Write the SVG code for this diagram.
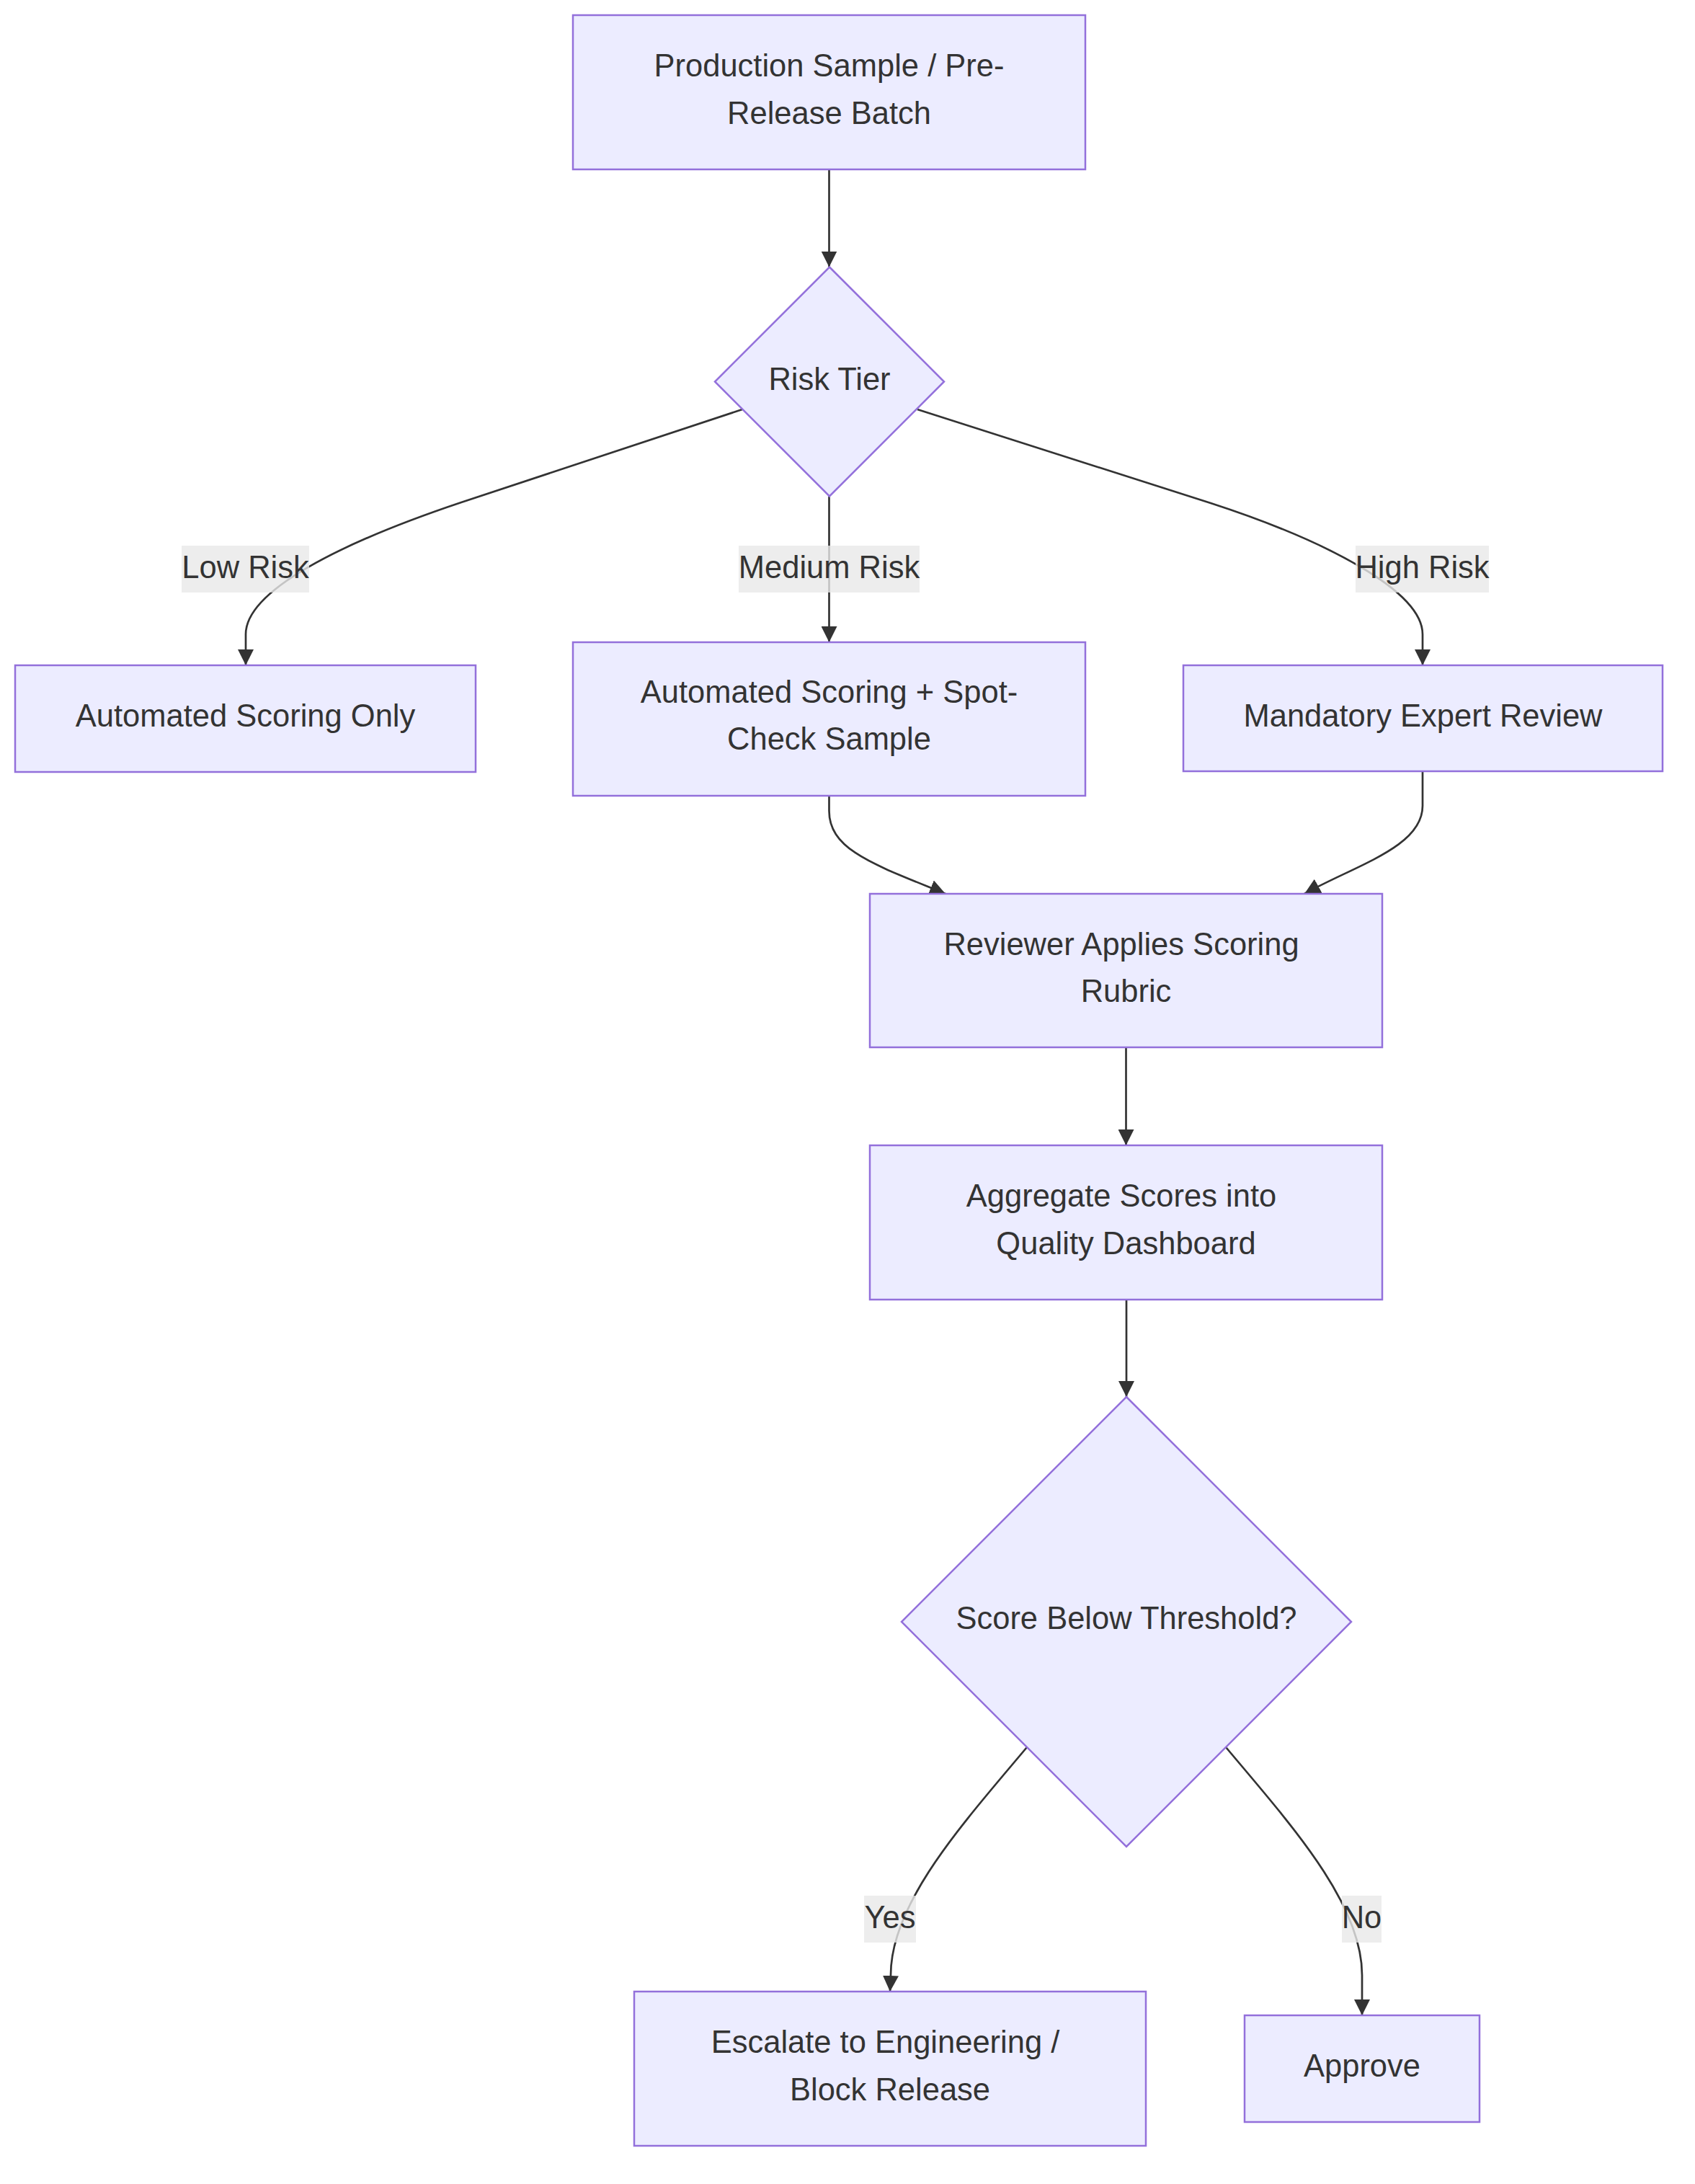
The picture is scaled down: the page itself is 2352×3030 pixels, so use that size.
<svg xmlns="http://www.w3.org/2000/svg" width="2352" height="3030" viewBox="0 0 2352 3030">
<style>
.nd rect,.nd polygon{fill:#ECECFF;stroke:#9370DB;stroke-width:2.5}
.t{font-family:"Liberation Sans",Arial,Helvetica,sans-serif;font-size:43.5px;fill:#333333;text-anchor:middle}
.e{fill:none;stroke:#333333;stroke-width:2.7;marker-end:url(#arr)}
.lb{fill:#e8e8e8;fill-opacity:0.8}
</style>
<defs>
<marker id="arr" viewBox="0 0 10 10" refX="10" refY="5" markerUnits="userSpaceOnUse" markerWidth="22" markerHeight="22" orient="auto">
<path d="M0,0 L10,5 L0,10 z" fill="#333333"/>
</marker>
</defs>
<rect width="2352" height="3030" fill="#ffffff"/>
<g id="edges">
<path class="e" d="M1150.5,235 L1150.5,370.5"/>
<path class="e" d="M1030,568 L640,697 C470,754 341,820 341,880 L341,923"/>
<path class="e" d="M1150.5,688.5 L1150.5,891"/>
<path class="e" d="M1273,568 L1680,698 C1840,750 1974,820 1974,880 L1974,923"/>
<path class="e" d="M1150.5,1104 L1150.5,1125 C1150.5,1180 1215,1200 1312,1240"/>
<path class="e" d="M1974,1070 L1974,1118 C1974,1175 1882,1200 1810,1240"/>
<path class="e" d="M1562.5,1453 L1562.5,1589"/>
<path class="e" d="M1563,1803 L1563,1938"/>
<path class="e" d="M1425,2424 C1336,2530 1236,2640 1236,2740 L1235,2763"/>
<path class="e" d="M1701,2424 C1790,2530 1890,2640 1890,2740 L1890,2796"/>
</g>
<g id="edge-labels">
<g id="lbl-low"><rect class="lb" x="252" y="757" width="177" height="65"/><text class="t" x="340.5" y="802">Low Risk</text></g>
<g id="lbl-medium"><rect class="lb" x="1025" y="757" width="251" height="65"/><text class="t" x="1150.5" y="802">Medium Risk</text></g>
<g id="lbl-high"><rect class="lb" x="1881" y="757" width="185" height="65"/><text class="t" x="1973.5" y="802">High Risk</text></g>
<g id="lbl-yes"><rect class="lb" x="1199" y="2630" width="72" height="65"/><text class="t" x="1235" y="2675">Yes</text></g>
<g id="lbl-no"><rect class="lb" x="1862" y="2630" width="55" height="65"/><text class="t" x="1889.5" y="2675">No</text></g>
</g>
<g id="node-start" class="nd"><rect x="795" y="21" width="711" height="214"/><text class="t" x="1150.5" y="106">Production Sample / Pre-</text><text class="t" x="1150.5" y="171.5">Release Batch</text></g>
<g id="node-risk" class="nd"><polygon points="1151,370.5 1310,529.5 1151,688.5 992,529.5"/><text class="t" x="1151" y="541">Risk Tier</text></g>
<g id="node-low" class="nd"><rect x="21" y="923" width="639" height="148"/><text class="t" x="340.5" y="1008">Automated Scoring Only</text></g>
<g id="node-medium" class="nd"><rect x="795" y="891" width="711" height="213"/><text class="t" x="1150.5" y="975">Automated Scoring + Spot-</text><text class="t" x="1150.5" y="1040">Check Sample</text></g>
<g id="node-high" class="nd"><rect x="1642" y="923" width="665" height="147"/><text class="t" x="1974.5" y="1008">Mandatory Expert Review</text></g>
<g id="node-review" class="nd"><rect x="1207" y="1240" width="711" height="213"/><text class="t" x="1556" y="1324.5">Reviewer Applies Scoring</text><text class="t" x="1562.5" y="1390">Rubric</text></g>
<g id="node-aggregate" class="nd"><rect x="1207" y="1589" width="711" height="214"/><text class="t" x="1556" y="1674">Aggregate Scores into</text><text class="t" x="1562.5" y="1739.5">Quality Dashboard</text></g>
<g id="node-threshold" class="nd"><polygon points="1563,1938 1875,2250 1563,2562 1251,2250"/><text class="t" x="1563" y="2260">Score Below Threshold?</text></g>
<g id="node-escalate" class="nd"><rect x="880" y="2763" width="710" height="214"/><text class="t" x="1228.5" y="2848">Escalate to Engineering /</text><text class="t" x="1235" y="2913.5">Block Release</text></g>
<g id="node-approve" class="nd"><rect x="1727" y="2796" width="326" height="148"/><text class="t" x="1890" y="2881">Approve</text></g>
</svg>
